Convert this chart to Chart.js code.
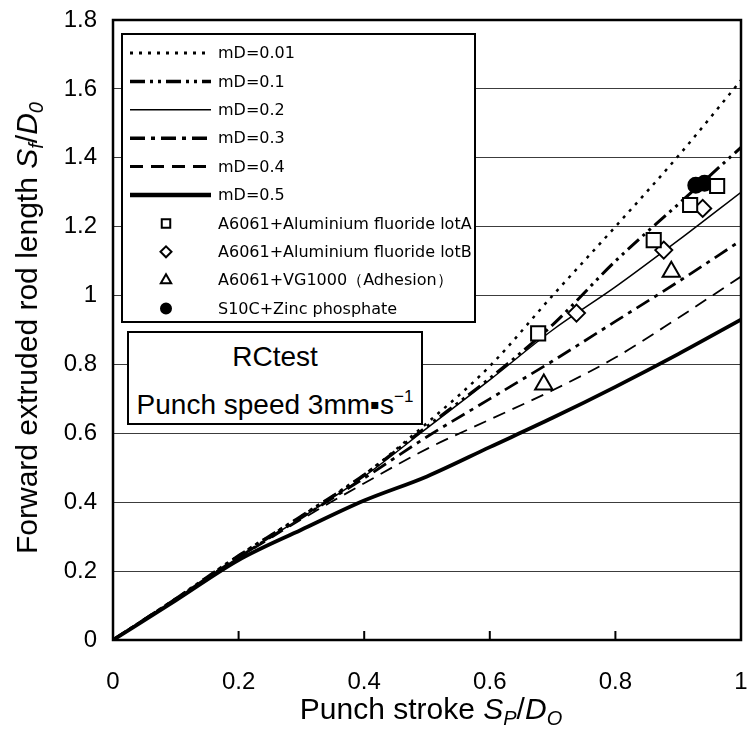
<!DOCTYPE html>
<html>
<head>
<meta charset="utf-8">
<script src="https://cdn.jsdelivr.net/npm/chart.js@4/dist/chart.umd.min.js"></script>
<style>
body { margin: 0; background: #fff; }
#wrap { position: relative; width: 753px; height: 740px; font-family: "Liberation Sans", Arial, sans-serif; color: #000; }
#chart { position: absolute; left: 0; top: 0; }
.ytitle { position: absolute; left: 29px; top: 328px; transform: translate(-50%, -50%) rotate(-90deg); white-space: nowrap; font-size: 30px; }
.xtitle { position: absolute; left: 431px; top: 711px; transform: translate(-50%, -50%); white-space: nowrap; font-size: 30px; }
.ytitle sub, .xtitle sub { font-size: 20px; vertical-align: -6px; }
.note { position: absolute; left: 127px; top: 331px; width: 292px; height: 86px; border: 2px solid #000; background: #fff;
        text-align: center; font-size: 28px; line-height: 40px; padding-top: 4px; }
.note sup { font-size: 17px; vertical-align: 12px; }
</style>
</head>
<body>
<div id="wrap">
  <canvas id="chart" width="753" height="740"></canvas>
  <div class="ytitle">Forward extruded rod length <i>S</i><sub><i>f</i></sub>/<i>D</i><sub><i>0</i></sub></div>
  <div class="xtitle">Punch stroke <i>S</i><sub><i>P</i></sub>/<i>D</i><sub><i>O</i></sub></div>
  <div class="note">RCtest<br>Punch speed 3mm&#9642;s<sup>&minus;1</sup></div>
</div>
<script>
// punch stroke grid for the simulated curves
const stroke = [0, 0.1, 0.2, 0.3, 0.4, 0.5, 0.6, 0.7, 0.8, 0.9, 1.0];
const mD001 = [0, 0.12, 0.245, 0.36, 0.48, 0.63, 0.795, 1.0, 1.2, 1.405, 1.625];
const mD01  = [0, 0.12, 0.245, 0.36, 0.48, 0.62, 0.76, 0.915, 1.1, 1.265, 1.43];
const mD02  = [0, 0.12, 0.24, 0.355, 0.475, 0.615, 0.755, 0.9, 1.025, 1.16, 1.3];
const mD03  = [0, 0.12, 0.24, 0.355, 0.47, 0.59, 0.7, 0.81, 0.925, 1.04, 1.16];
const mD04  = [0, 0.118, 0.237, 0.35, 0.455, 0.555, 0.64, 0.725, 0.82, 0.935, 1.055];
const mD05  = [0, 0.115, 0.232, 0.32, 0.405, 0.475, 0.56, 0.645, 0.735, 0.83, 0.93];

// experiments
const lotAx = [0.677, 0.861, 0.919, 0.962];
const lotAy = [0.89, 1.161, 1.263, 1.318];
const lotBx = [0.738, 0.877, 0.939];
const lotBy = [0.949, 1.132, 1.253];
const vgX = [0.686, 0.889];
const vgY = [0.742, 1.069];
const zincX = [0.928, 0.942];
const zincY = [1.32, 1.326];

const xTicks = [0, 0.2, 0.4, 0.6, 0.8, 1];
const yTicks = [0, 0.2, 0.4, 0.6, 0.8, 1, 1.2, 1.4, 1.6, 1.8];

const pts = (xs, ys) => xs.map((x, i) => ({ x: x, y: ys[i] }));

function curve(label, ys, width, dash, legendWidth) {
  return {
    label: label,
    data: pts(stroke, ys),
    showLine: true,
    borderColor: '#000',
    borderWidth: width,
    borderDash: dash,
    borderCapStyle: 'butt',
    cubicInterpolationMode: 'monotone',
    pointRadius: 0,
    pointHoverRadius: 0,
    legendWidth: legendWidth,
    order: 1
  };
}

function marks(label, xs, ys, style, r, legendR, fill) {
  return {
    label: label,
    data: pts(xs, ys),
    showLine: false,
    pointStyle: style,
    pointRadius: r,
    pointBackgroundColor: fill,
    pointBorderColor: '#000',
    pointBorderWidth: 2,
    legendR: legendR,
    order: 0
  };
}

const datasets = [
  curve('mD=0.01', mD001, 2.5, [3, 6], 3),
  curve('mD=0.1', mD01, 3, [15, 5, 3, 5, 3, 5], 3.5),
  curve('mD=0.2', mD02, 1.5, [], 1.5),
  curve('mD=0.3', mD03, 2.8, [15, 6, 4, 6], 3.5),
  curve('mD=0.4', mD04, 1.8, [13, 8], 3),
  curve('mD=0.5', mD05, 3.8, [], 4.5),
  marks('A6061+Aluminium fluoride lotA', lotAx, lotAy, 'rect', 10, 6, '#fff'),
  marks('A6061+Aluminium fluoride lotB', lotBx, lotBy, 'rectRot', 8.5, 5.5, '#fff'),
  marks('A6061+VG1000\uFF08Adhesion\uFF09', vgX, vgY, 'triangle', 10, 6, '#fff'),
  marks('S10C+Zinc phosphate', zincX, zincY, 'circle', 7.5, 5, '#000')
];

// frame, inward x ticks and the boxed legend inside the plot
const decor = {
  id: 'decor',
  afterDatasetsDraw(chart) {
    const ctx = chart.ctx;
    const a = chart.chartArea;
    const xs = chart.scales.x;
    ctx.save();
    ctx.strokeStyle = '#000';
    ctx.lineWidth = 2;
    xTicks.forEach(v => {
      const px = xs.getPixelForValue(v);
      ctx.beginPath();
      ctx.moveTo(px, a.bottom);
      ctx.lineTo(px, a.bottom - 9);
      ctx.stroke();
    });
    ctx.lineWidth = 2.5;
    ctx.strokeRect(a.left, a.top, a.right - a.left, a.bottom - a.top);

    // legend box
    const lx = 122, ly = 34, lw = 353, lh = 288;
    ctx.fillStyle = '#fff';
    ctx.fillRect(lx, ly, lw, lh);
    ctx.lineWidth = 2;
    ctx.strokeRect(lx, ly, lw, lh);
    ctx.font = '16px "DejaVu Sans", sans-serif';
    ctx.textBaseline = 'middle';
    chart.data.datasets.forEach((ds, i) => {
      const y = 53 + i * 28.4;
      if (ds.showLine) {
        ctx.save();
        ctx.strokeStyle = '#000';
        ctx.lineWidth = ds.legendWidth;
        ctx.setLineDash(ds.borderDash);
        ctx.lineCap = 'butt';
        ctx.beginPath();
        ctx.moveTo(130, y);
        ctx.lineTo(211, y);
        ctx.stroke();
        ctx.restore();
      } else {
        ctx.save();
        ctx.fillStyle = ds.pointBackgroundColor;
        ctx.strokeStyle = '#000';
        Chart.helpers.drawPoint(ctx, { pointStyle: ds.pointStyle, radius: ds.legendR, rotation: 0, borderWidth: 2 }, 166, y);
        ctx.restore();
      }
      ctx.fillStyle = '#000';
      ctx.fillText(ds.label, 218, y + 1);
    });
    ctx.restore();
  }
};

const tickFont = { size: 24, family: '"Liberation Sans", Arial, sans-serif' };

new Chart(document.getElementById('chart'), {
  type: 'scatter',
  data: { datasets: datasets },
  options: {
    responsive: false,
    animation: false,
    layout: { padding: { top: 20, right: 3, left: 0, bottom: 0 } },
    plugins: { legend: { display: false }, tooltip: { enabled: false } },
    scales: {
      x: {
        type: 'linear', min: 0, max: 1,
        afterFit: s => { s.height = 100; s.paddingLeft = 0; s.paddingRight = 0; },
        afterBuildTicks: s => { s.ticks = xTicks.map(v => ({ value: v })); },
        ticks: { color: '#000', padding: 20, font: tickFont, callback: v => String(+v.toFixed(1)) },
        grid: { display: false },
        border: { display: false }
      },
      y: {
        type: 'linear', min: 0, max: 1.8,
        afterFit: s => { s.width = 113; s.paddingTop = 0; s.paddingBottom = 0; },
        afterBuildTicks: s => { s.ticks = yTicks.map(v => ({ value: v })); },
        ticks: { color: '#000', padding: 16, font: tickFont, callback: v => String(+v.toFixed(1)) },
        grid: { color: '#3c3c3c', lineWidth: 1, drawTicks: false },
        border: { display: false }
      }
    }
  },
  plugins: [decor]
});
</script>
</body>
</html>
